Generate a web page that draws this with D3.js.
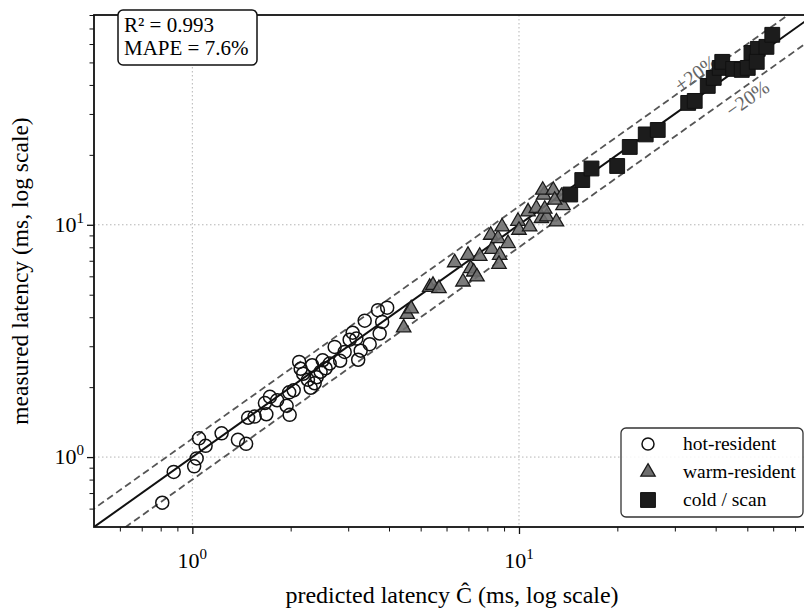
<!DOCTYPE html>
<html>
<head>
<meta charset="utf-8">
<script src="https://cdn.jsdelivr.net/npm/d3@7"></script>
<style>
  body { margin: 0; background: #fff; }
  svg { display: block; font-family: "Liberation Serif", "DejaVu Serif", serif; }
</style>
</head>
<body>
<div id="chart-container"></div>
<script>
// hot-resident (open circles)
const hotX = [0.809, 0.877, 1.013, 1.031, 1.048, 1.098, 1.229, 1.379, 1.461, 1.482, 1.551, 1.685, 1.668,
  1.728, 1.818, 1.944, 1.986, 1.979, 2.043, 2.123, 2.146, 2.184, 2.259, 2.303, 2.327, 2.402, 2.470, 2.506,
  2.633, 2.727, 2.835, 2.926, 3.031, 3.096, 3.178, 3.219, 3.276, 3.370, 3.491, 3.700, 3.745, 3.812, 3.949,
  2.368, 2.559];
const hotY = [0.636, 0.863, 0.912, 0.987, 1.204, 1.118, 1.265, 1.186, 1.140, 1.476, 1.494, 1.528, 1.709,
  1.817, 1.756, 1.663, 1.520, 1.900, 1.939, 2.568, 2.400, 2.284, 2.151, 1.988, 2.485, 2.206, 2.329, 2.611,
  2.527, 2.980, 2.598, 2.836, 3.200, 3.430, 3.237, 2.624, 2.870, 3.865, 3.060, 4.289, 3.403, 3.819, 4.397,
  2.078, 2.412];

// warm-resident (grey triangles)
const warmX = [4.436, 4.548, 4.677, 5.329, 5.454, 5.689, 6.356, 6.738, 6.980, 7.114, 7.266, 7.437, 7.581,
  8.260, 8.192, 8.624, 8.872, 9.254, 8.727, 8.685, 9.929, 10.00, 10.78, 10.66, 11.30, 11.71, 12.16, 11.90,
  11.82, 11.99, 12.73, 13.02, 13.64, 13.49, 12.86];
const warmY = [3.605, 4.122, 4.354, 5.389, 5.497, 5.319, 6.873, 5.680, 7.403, 6.489, 6.273, 5.971, 7.330,
  7.842, 9.030, 8.740, 9.804, 8.316, 7.403, 6.770, 10.37, 9.489, 9.804, 11.38, 11.77, 10.66, 10.83, 13.43,
  14.11, 11.69, 14.11, 10.30, 12.10, 13.26, 12.78];

// cold / scan (black squares)
const coldX = [14.35, 15.62, 16.67, 19.98, 21.83, 24.43, 26.59, 32.96, 34.51, 37.83, 39.46, 41.16, 41.90,
  45.21, 48.08, 50.15, 51.48, 53.82, 53.43, 57.22, 59.62];
const coldY = [13.50, 15.58, 17.47, 17.91, 21.63, 24.49, 25.60, 33.47, 34.14, 39.61, 42.89, 47.35, 50.28,
  46.89, 46.43, 47.35, 54.96, 57.19, 50.28, 58.34, 65.74];

const majorTicks = [1, 10];
const majorExp = ["0", "1"];
const minorTicks = [0.6, 0.7, 0.8, 0.9, 2, 3, 4, 5, 6, 7, 8, 9, 20, 30, 40, 50, 60, 70, 80];
const bandFactors = [1.2, 0.8];
const bandLabels = ["+20%", "\u221220%"];
const bandLabelAt = [35.7, 47.8];
const statLines = ["R\u00B2 = 0.993", "MAPE = 7.6%"];
const seriesNames = ["hot-resident", "warm-resident", "cold / scan"];

const width = 804;
const height = 608;
const margin = { top: 15, right: -10, bottom: 81, left: 94 };
const x0 = margin.left, x1 = width - margin.right;
const y0 = margin.top, y1 = height - margin.bottom;

const svg = d3.select("#chart-container")
  .append("svg")
  .attr("width", width)
  .attr("height", height);

const x = d3.scaleLog().domain([0.5, 80]).range([x0, x1]);
const y = d3.scaleLog().domain([0.5, 80]).range([y1, y0]);

svg.append("clipPath").attr("id", "plot-clip")
  .append("rect").attr("x", x0).attr("y", y0).attr("width", x1 - x0).attr("height", y1 - y0);

// grid at major ticks
const grid = svg.append("g").attr("stroke", "#b5b5b5").attr("stroke-width", 1).attr("stroke-dasharray", "1.5,2.5");
majorTicks.forEach(t => {
  grid.append("line").attr("x1", x(t)).attr("x2", x(t)).attr("y1", y0).attr("y2", y1);
  grid.append("line").attr("y1", y(t)).attr("y2", y(t)).attr("x1", x0).attr("x2", x1);
});

// reference lines
const refs = svg.append("g").attr("clip-path", "url(#plot-clip)");
const span = [0.4, 100];
bandFactors.forEach(f => {
  refs.append("line")
    .attr("x1", x(span[0])).attr("y1", y(span[0] * f))
    .attr("x2", x(span[1])).attr("y2", y(span[1] * f))
    .attr("stroke", "#555").attr("stroke-width", 1.8).attr("stroke-dasharray", "7,4");
});
refs.append("line")
  .attr("x1", x(span[0])).attr("y1", y(span[0]))
  .attr("x2", x(span[1])).attr("y2", y(span[1]))
  .attr("stroke", "#111").attr("stroke-width", 2);

// band labels
const angle = -Math.atan((y(1) - y(10)) / (x(10) - x(1))) * 180 / Math.PI;
const bandShift = [1, 18];
bandFactors.forEach((f, i) => {
  const px = x(bandLabelAt[i]), py = y(bandLabelAt[i] * f);
  svg.append("text")
    .attr("transform", `translate(${px},${py}) rotate(${angle}) translate(0,${bandShift[i]})`)
    .attr("text-anchor", "middle")
    .attr("font-size", 20)
    .attr("fill", "#666")
    .text(bandLabels[i]);
});

// points
const pts = svg.append("g").attr("clip-path", "url(#plot-clip)");
pts.selectAll("circle.hot")
  .data(hotX.map((v, i) => [v, hotY[i]]))
  .enter().append("circle")
  .attr("cx", d => x(d[0])).attr("cy", d => y(d[1])).attr("r", 6.5)
  .attr("fill", "none").attr("stroke", "#111").attr("stroke-width", 1.5);

const tri = d3.symbol().type(d3.symbolTriangle).size(90);
pts.selectAll("path.warm")
  .data(warmX.map((v, i) => [v, warmY[i]]))
  .enter().append("path")
  .attr("d", tri)
  .attr("transform", d => `translate(${x(d[0])},${y(d[1])})`)
  .attr("fill", "#6e6e6e").attr("fill-opacity", 0.9)
  .attr("stroke", "#1a1a1a").attr("stroke-width", 1.3);

const sq = d3.symbol().type(d3.symbolSquare).size(220);
pts.selectAll("path.cold")
  .data(coldX.map((v, i) => [v, coldY[i]]))
  .enter().append("path")
  .attr("d", sq)
  .attr("transform", d => `translate(${x(d[0])},${y(d[1])})`)
  .attr("fill", "#1c1c1c").attr("stroke", "#111").attr("stroke-width", 1);

// axes
function addAxis(axisFn, scale, tx, ty) {
  svg.append("g").attr("transform", `translate(${tx},${ty})`)
    .call(axisFn(scale).tickValues(minorTicks).tickSize(4.5).tickFormat(""))
    .call(g => g.select(".domain").remove())
    .call(g => g.selectAll("line").attr("stroke", "#111").attr("stroke-width", 1));
  svg.append("g").attr("transform", `translate(${tx},${ty})`)
    .call(axisFn(scale).tickValues(majorTicks).tickSize(7).tickFormat(""))
    .call(g => g.select(".domain").remove())
    .call(g => g.selectAll("line").attr("stroke", "#111").attr("stroke-width", 1.3));
}
addAxis(d3.axisBottom, x, 0, y1);
addAxis(d3.axisLeft, y, x0, 0);

// spines
svg.append("rect").attr("x", x0).attr("y", y0).attr("width", x1 - x0).attr("height", y1 - y0)
  .attr("fill", "none").attr("stroke", "#111").attr("stroke-width", 1.8);

// tick labels
majorTicks.forEach((t, i) => {
  const lx = svg.append("text").attr("x", x(t)).attr("y", y1 + 41)
    .attr("text-anchor", "middle").attr("font-size", 22);
  lx.append("tspan").text("10");
  lx.append("tspan").attr("dy", -9).attr("font-size", 15).text(majorExp[i]);

  const ly = svg.append("text").attr("x", x0 - 10).attr("y", y(t) + 7)
    .attr("text-anchor", "end").attr("font-size", 22);
  ly.append("tspan").text("10");
  ly.append("tspan").attr("dy", -9).attr("font-size", 15).text(majorExp[i]);
});

// axis titles
svg.append("text")
  .attr("x", (x0 + x1) / 2 - 2).attr("y", y1 + 76)
  .attr("text-anchor", "middle").attr("font-size", 24)
  .text("predicted latency \u0108 (ms, log scale)");
svg.append("text")
  .attr("transform", `translate(28,${(y0 + y1) / 2}) rotate(-90)`)
  .attr("text-anchor", "middle").attr("font-size", 23.5)
  .text("measured latency (ms, log scale)");

// stats box
const stat = svg.append("g");
stat.append("rect").attr("x", 118).attr("y", 10).attr("width", 139).attr("height", 55).attr("rx", 5)
  .attr("fill", "#fff").attr("stroke", "#111").attr("stroke-width", 1.5);
statLines.forEach((s, i) => {
  stat.append("text").attr("x", 124).attr("y", 32 + i * 23).attr("font-size", 21).text(s);
});

// legend
const leg = svg.append("g");
leg.append("rect").attr("x", 621).attr("y", 428).attr("width", 182).attr("height", 89).attr("rx", 5)
  .attr("fill", "#fff").attr("fill-opacity", 0.85).attr("stroke", "#333").attr("stroke-width", 1.3);
const legSyms = [
  g => g.append("circle").attr("r", 6).attr("fill", "none").attr("stroke", "#111").attr("stroke-width", 1.5),
  g => g.append("path").attr("d", tri).attr("fill", "#6e6e6e").attr("stroke", "#1a1a1a").attr("stroke-width", 1.3),
  g => g.append("path").attr("d", sq).attr("fill", "#1c1c1c").attr("stroke", "#111")
];
seriesNames.forEach((n, i) => {
  const g = leg.append("g").attr("transform", `translate(648,${444 + i * 28})`);
  legSyms[i](g);
  leg.append("text").attr("x", 683).attr("y", 450 + i * 28).attr("font-size", 19.5).text(n);
});
</script>
</body>
</html>
